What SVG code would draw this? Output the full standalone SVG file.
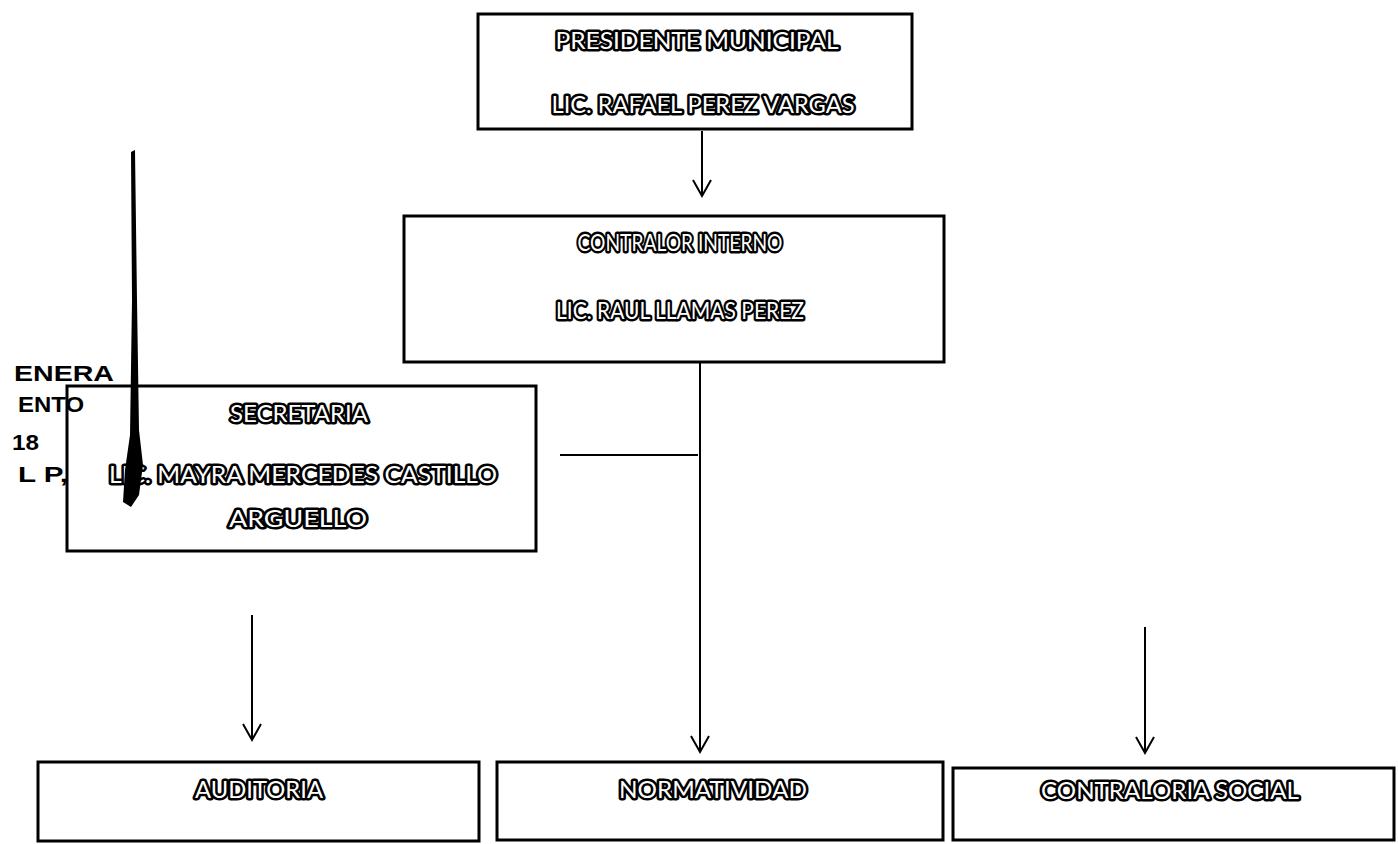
<svg xmlns="http://www.w3.org/2000/svg" width="1398" height="844" viewBox="0 0 1398 844">
<style>
.box{fill:#fff;stroke:#000;stroke-width:3}
.t{font-family:Lato,"Liberation Sans",sans-serif;font-size:23px;fill:#fff;stroke:#000;stroke-width:5;stroke-linejoin:round;paint-order:stroke fill;text-anchor:middle}
.c{fill:none;stroke:#000;stroke-width:2}
.stamp{font-family:"Liberation Sans",sans-serif;font-weight:bold;font-size:22px;fill:#000}
</style>
<rect width="1398" height="844" fill="#fff"/>
<g id="connectors">
<line class="c" x1="702" y1="131" x2="702" y2="196"/>
<path class="c" d="M693,180 L702,196 L711,180"/>
<line class="c" x1="700" y1="362" x2="700" y2="752"/>
<path class="c" d="M691,736 L700,752 L709,736"/>
<line class="c" x1="560" y1="455" x2="698" y2="455"/>
<line class="c" x1="252" y1="615" x2="252" y2="740"/>
<path class="c" d="M243,724 L252,740 L261,724"/>
<line class="c" x1="1145" y1="627" x2="1145" y2="753"/>
<path class="c" d="M1136,737 L1145,753 L1154,737"/>
</g>
<g id="presidente">
<rect class="box" x="478" y="14" width="434" height="115"/>
<text class="t" x="697" y="49" textLength="283" lengthAdjust="spacingAndGlyphs">PRESIDENTE MUNICIPAL</text>
<text class="t" x="703" y="113" textLength="303" lengthAdjust="spacingAndGlyphs">LIC. RAFAEL PEREZ VARGAS</text>
</g>
<g id="contralor">
<rect class="box" x="404" y="216" width="540" height="146"/>
<text class="t" x="680" y="251" textLength="205" lengthAdjust="spacingAndGlyphs">CONTRALOR INTERNO</text>
<text class="t" x="680" y="319" textLength="248" lengthAdjust="spacingAndGlyphs">LIC. RAUL LLAMAS PEREZ</text>
</g>
<g id="secretaria">
<rect class="box" x="67" y="386" width="469" height="165"/>
<text class="t" x="299" y="422" textLength="138" lengthAdjust="spacingAndGlyphs">SECRETARIA</text>
<text class="t" x="303" y="483" textLength="388" lengthAdjust="spacingAndGlyphs">LIC. MAYRA MERCEDES CASTILLO</text>
<text class="t" x="298" y="527" textLength="138" lengthAdjust="spacingAndGlyphs">ARGUELLO</text>
</g>
<g id="auditoria">
<rect class="box" x="38" y="762" width="441" height="79"/>
<text class="t" x="259" y="798" textLength="128" lengthAdjust="spacingAndGlyphs">AUDITORIA</text>
</g>
<g id="normatividad">
<rect class="box" x="497" y="762" width="446" height="78"/>
<text class="t" x="713" y="798" textLength="188" lengthAdjust="spacingAndGlyphs">NORMATIVIDAD</text>
</g>
<g id="contraloria-social">
<rect class="box" x="953" y="768" width="441" height="72"/>
<text class="t" x="1170" y="799" textLength="258" lengthAdjust="spacingAndGlyphs">CONTRALORIA SOCIAL</text>
</g>
<g id="stamp">
<text class="stamp" x="14" y="381" textLength="100" lengthAdjust="spacingAndGlyphs">ENERA</text>
<text class="stamp" x="18" y="412" textLength="66" lengthAdjust="spacingAndGlyphs">ENTO</text>
<text class="stamp" x="12" y="450" textLength="27" lengthAdjust="spacingAndGlyphs">18</text>
<text class="stamp" x="18" y="482" textLength="50" lengthAdjust="spacingAndGlyphs">L P,</text>
<path d="M131,152 L135,150 L137,300 L139,430 L143,465 L139,495 L131,507 L123,502 L125,470 L130,435 L132,300 Z" fill="#000"/>
</g>
</svg>
